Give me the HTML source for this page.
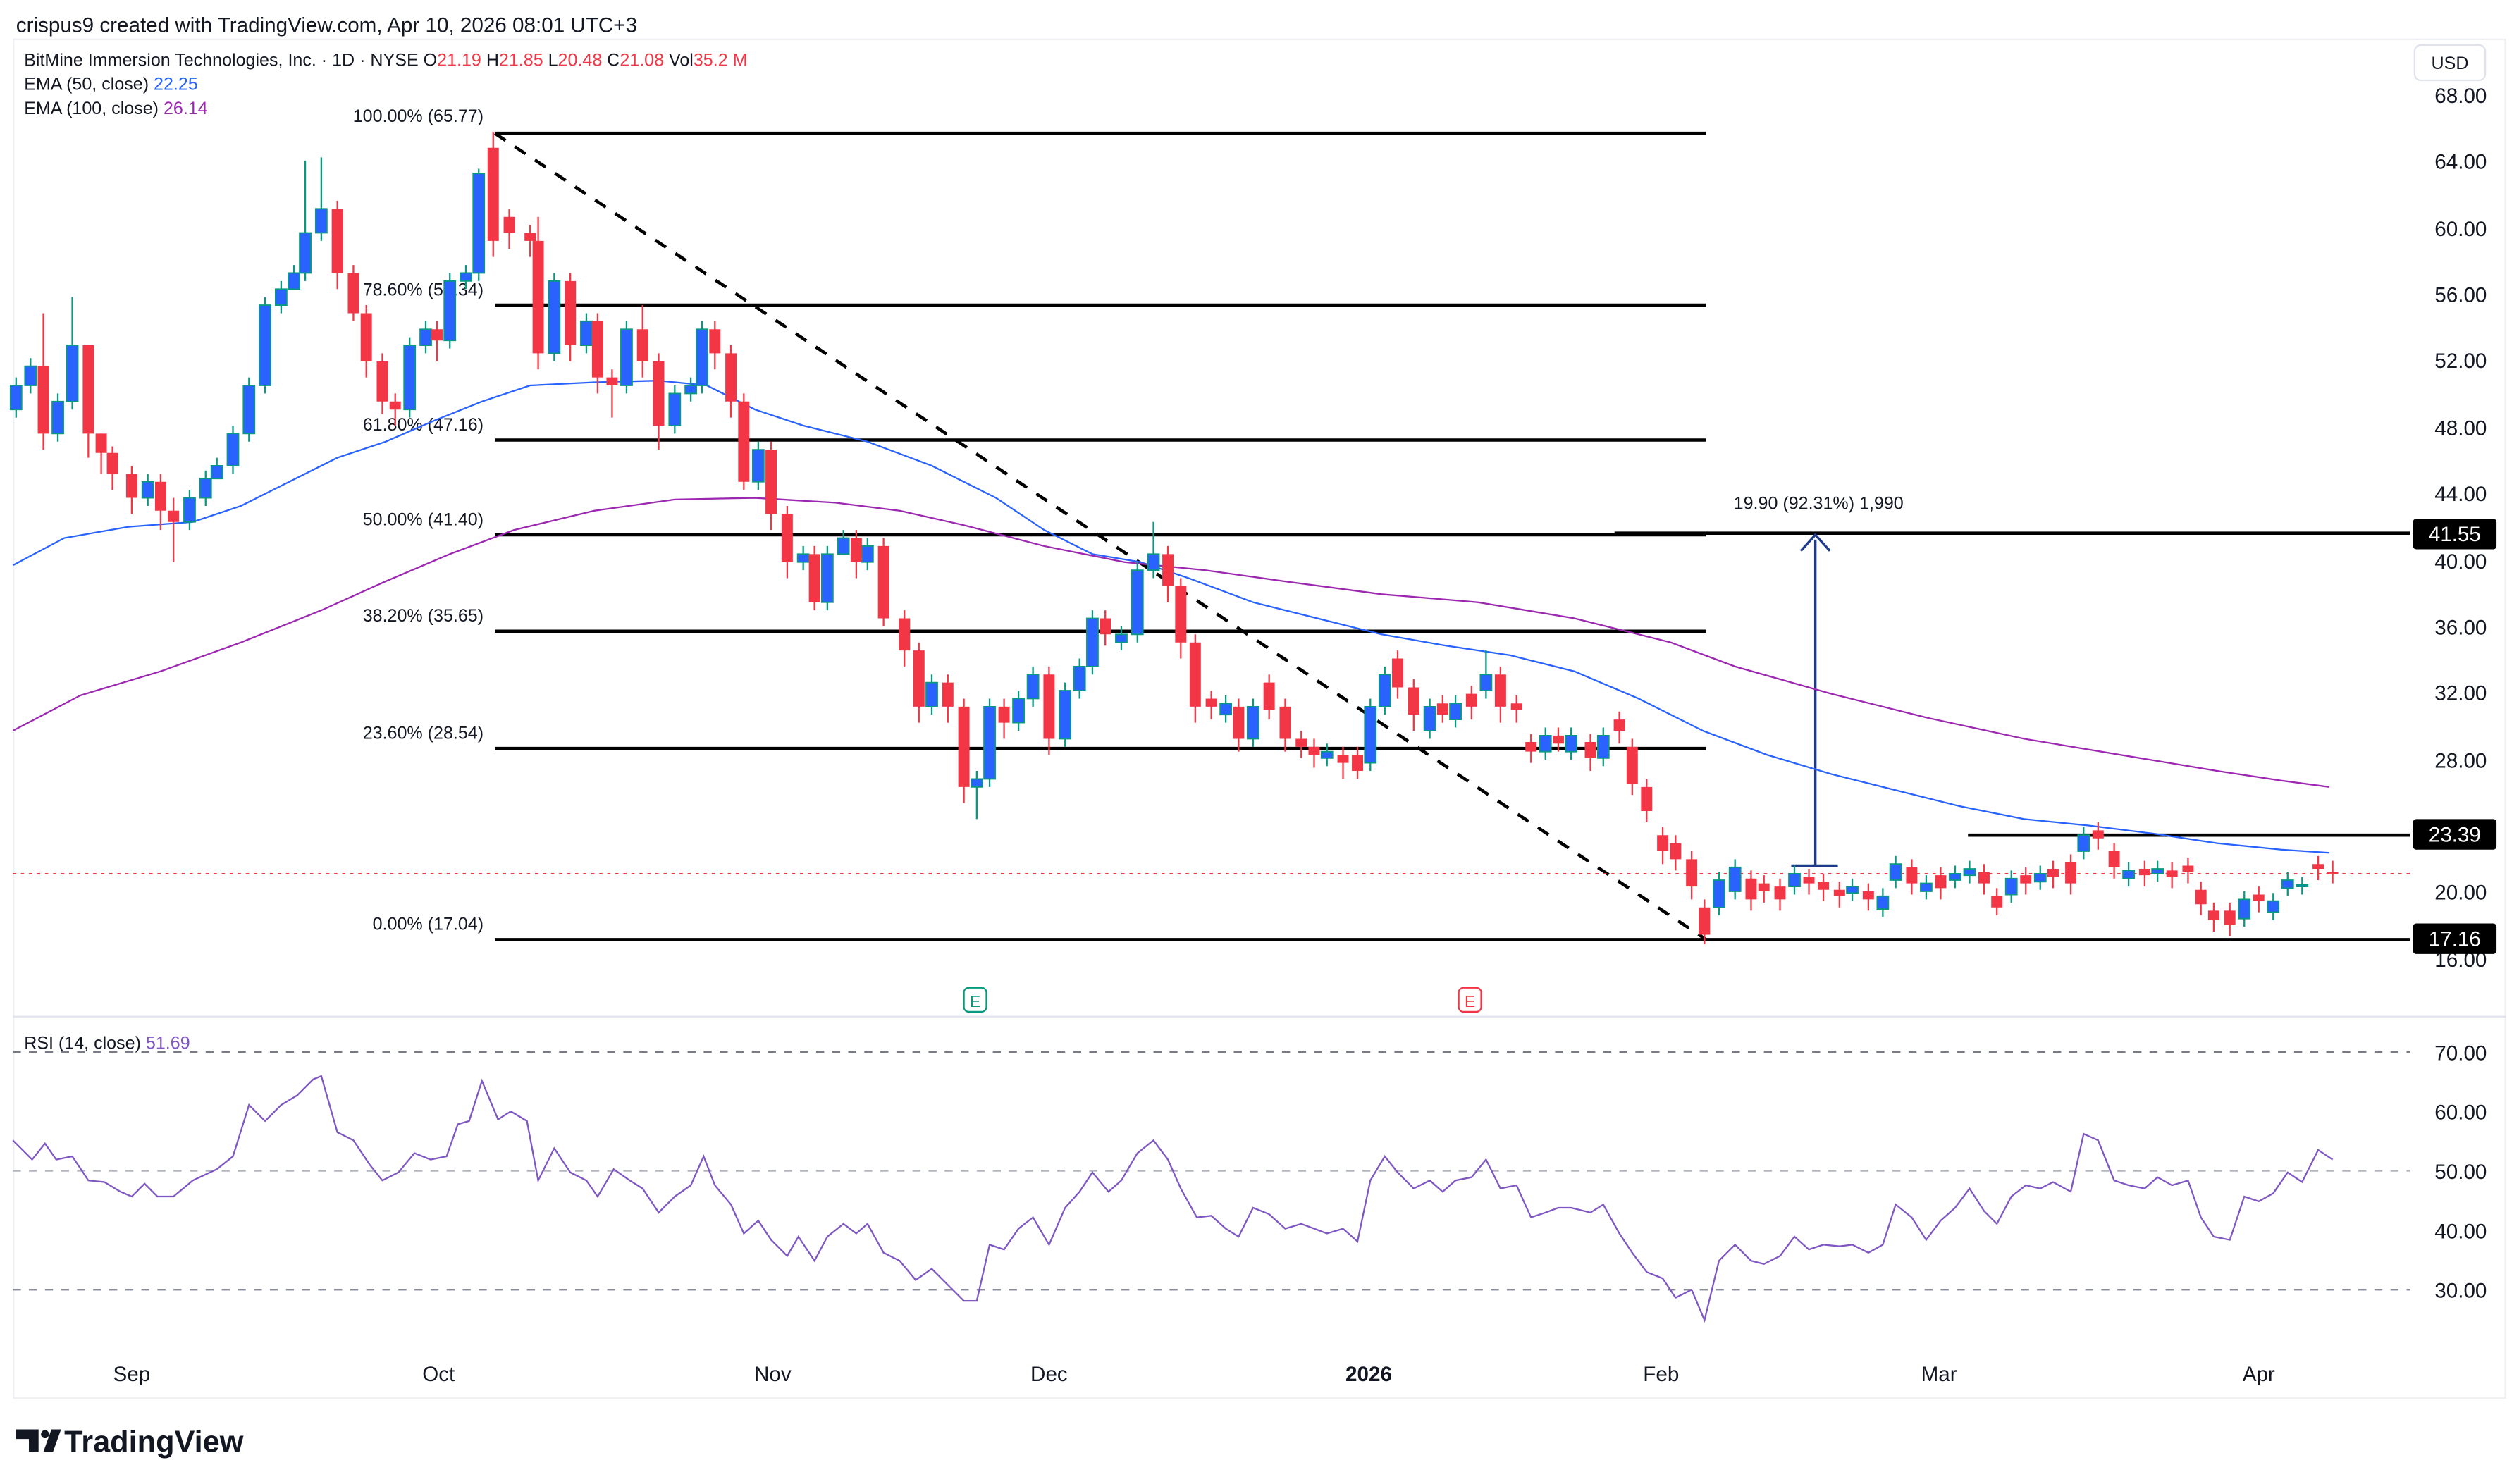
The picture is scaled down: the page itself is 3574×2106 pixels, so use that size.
<!DOCTYPE html>
<html><head><meta charset="utf-8"><style>
html,body{margin:0;padding:0;background:#fff;}
svg{display:block;}
text{font-family:"Liberation Sans",sans-serif;}
</style></head><body>
<svg width="3574" height="2106" viewBox="0 0 1568 924" preserveAspectRatio="none" xmlns="http://www.w3.org/2000/svg">
<rect width="1568" height="924" fill="#fff"/>
<text x="10" y="20" font-size="13" fill="#131722">crispus9 created with TradingView.com, Apr 10, 2026 08:01 UTC+3</text>
<rect x="8.5" y="24.5" width="1551" height="846" fill="none" stroke="#eef0f3"/>
<line x1="8" y1="633" x2="1560" y2="633" stroke="#e0e3eb" stroke-width="1"/>
<text x="15" y="41" font-size="11" fill="#131722">BitMine Immersion Technologies, Inc. · 1D · NYSE  O<tspan fill="#f23645">21.19</tspan> H<tspan fill="#f23645">21.85</tspan> L<tspan fill="#f23645">20.48</tspan> C<tspan fill="#f23645">21.08</tspan> Vol<tspan fill="#f23645">35.2 M</tspan></text>
<text x="15" y="56" font-size="11" fill="#131722">EMA (50, close) <tspan fill="#2962ff">22.25</tspan></text>
<text x="15" y="71" font-size="11" fill="#131722">EMA (100, close) <tspan fill="#9c27b0">26.14</tspan></text>
<rect x="1503" y="28" width="44" height="22" rx="4" fill="#fff" stroke="#e0e3eb"/>
<text x="1525" y="43" font-size="11" text-anchor="middle" fill="#131722">USD</text>
<g font-size="13" fill="#131722" text-anchor="end">
<text x="1548" y="64">68.00</text><text x="1548" y="105">64.00</text><text x="1548" y="147">60.00</text><text x="1548" y="188">56.00</text><text x="1548" y="229">52.00</text><text x="1548" y="271">48.00</text><text x="1548" y="312">44.00</text><text x="1548" y="354">40.00</text><text x="1548" y="395">36.00</text><text x="1548" y="436">32.00</text><text x="1548" y="478">28.00</text><text x="1548" y="560">20.00</text><text x="1548" y="602">16.00</text>
</g>
<g stroke="#000" stroke-width="2">
<line x1="308" y1="83" x2="1062" y2="83"/>
<line x1="308" y1="190" x2="1062" y2="190"/>
<line x1="308" y1="274" x2="1062" y2="274"/>
<line x1="308" y1="333" x2="1062" y2="333"/>
<line x1="308" y1="393" x2="1062" y2="393"/>
<line x1="308" y1="466" x2="1062" y2="466"/>
<line x1="308" y1="585" x2="1500" y2="585"/>
<line x1="1005" y1="332" x2="1500" y2="332"/>
<line x1="1225" y1="520" x2="1500" y2="520"/>
</g>
<line x1="308" y1="83" x2="1062" y2="585" stroke="#000" stroke-width="2" stroke-dasharray="8,7"/>
<g font-size="11" fill="#131722" text-anchor="end">
<text x="301" y="76">100.00% (65.77)</text>
<text x="301" y="184">78.60% (55.34)</text>
<text x="301" y="268">61.80% (47.16)</text>
<text x="301" y="327">50.00% (41.40)</text>
<text x="301" y="387">38.20% (35.65)</text>
<text x="301" y="460">23.60% (28.54)</text>
<text x="301" y="579">0.00% (17.04)</text>
</g>
<line x1="1130" y1="539" x2="1130" y2="336" stroke="#1e3a8a" stroke-width="1.5"/>
<line x1="1115" y1="539" x2="1144" y2="539" stroke="#1e3a8a" stroke-width="1.5"/>
<polyline points="1121,343 1130,333 1139,343" fill="none" stroke="#1e3a8a" stroke-width="1.5"/>
<text x="1132" y="317" font-size="11" text-anchor="middle" fill="#131722">19.90 (92.31%) 1,990</text>
<line x1="8" y1="544" x2="1500" y2="544" stroke="#f23645" stroke-width="0.8" stroke-dasharray="2,3"/>
<polyline fill="none" stroke="#2962ff" stroke-width="1" points="8,352 40,335 80,328 120,325 150,315 180,300 210,285 240,275 270,262 300,250 330,240 370,238 410,237 440,240 470,255 500,265 540,275 580,290 620,310 650,330 680,345 710,350 740,360 780,375 820,385 860,395 900,402 940,408 980,418 1020,435 1060,455 1100,470 1140,482 1180,492 1220,502 1260,510 1300,514 1340,519 1380,525 1420,529 1450,531"/>
<polyline fill="none" stroke="#9c27b0" stroke-width="1" points="8,455 50,433 100,418 150,400 200,380 240,362 280,345 320,330 370,318 420,311 470,310 520,313 560,318 600,327 650,340 700,350 750,355 800,362 860,370 920,375 980,385 1040,400 1080,415 1140,432 1200,447 1260,460 1320,470 1380,480 1420,486 1450,490"/>
<!-- up candles -->
<path stroke="#089981" stroke-width="1" fill="none" d="M10 235V260M19 223V245M36 245V275M45 185V255M92 295V315M118 305V330M128 293V315M135 285V295M145 265V295M155 235V275M165 185V245M175 175V195M183 165V175M190 100V175M200 98V150M255 210V260M265 200V220M280 170V217M290 165V180M298 105V175M345 170V225M365 195V220M390 200V245M420 240V270M430 235V250M437 200V245M472 275V305M500 340V355M515 340V380M525 330V340M540 335V355M580 420V445M608 480V510M616 435V490M634 430V455M643 415V440M663 425V465M672 410V435M680 380V420M698 390V405M708 350V400M718 325V360M763 433V450M780 435V465M826 463V477M853 435V480M862 415V445M890 435V460M906 433V453M925 405V435M962 453V473M978 453V473M998 453V477M1070 543V570M1080 535V560M1117 539V557M1153 547V561M1172 553V571M1180 533V553M1199 545V560M1217 539V553M1226 536V550M1252 542V562M1270 539V554M1297 515V535M1325 537V552M1343 536V549M1397 555V577M1415 556V573M1424 543V558M1433 546V557"/>
<path fill="#2962ff" stroke="#089981" stroke-width="0.8" d="M6.5 240h7V255h-7ZM15.5 228h7V240h-7ZM32.5 250h7V270h-7ZM41.5 215h7V250h-7ZM88.5 300h7V310h-7ZM114.5 310h7V325h-7ZM124.5 298h7V310h-7ZM131.5 290h7V298h-7ZM141.5 270h7V290h-7ZM151.5 240h7V270h-7ZM161.5 190h7V240h-7ZM171.5 180h7V190h-7ZM179.5 170h7V180h-7ZM186.5 145h7V170h-7ZM196.5 130h7V145h-7ZM251.5 215h7V255h-7ZM261.5 205h7V215h-7ZM276.5 175h7V212h-7ZM286.5 170h7V175h-7ZM294.5 108h7V170h-7ZM341.5 175h7V220h-7ZM361.5 200h7V215h-7ZM386.5 205h7V240h-7ZM416.5 245h7V265h-7ZM426.5 240h7V245h-7ZM433.5 205h7V240h-7ZM468.5 280h7V300h-7ZM496.5 345h7V350h-7ZM511.5 345h7V375h-7ZM521.5 335h7V345h-7ZM536.5 340h7V350h-7ZM576.5 425h7V440h-7ZM604.5 485h7V490h-7ZM612.5 440h7V485h-7ZM630.5 435h7V450h-7ZM639.5 420h7V435h-7ZM659.5 430h7V460h-7ZM668.5 415h7V430h-7ZM676.5 385h7V415h-7ZM694.5 395h7V400h-7ZM704.5 355h7V395h-7ZM714.5 345h7V355h-7ZM759.5 438h7V445h-7ZM776.5 440h7V460h-7ZM822.5 468h7V472h-7ZM849.5 440h7V475h-7ZM858.5 420h7V440h-7ZM886.5 440h7V455h-7ZM902.5 438h7V448h-7ZM921.5 420h7V430h-7ZM958.5 458h7V468h-7ZM974.5 458h7V468h-7ZM994.5 458h7V472h-7ZM1066.5 548h7V565h-7ZM1076.5 540h7V555h-7ZM1113.5 544h7V552h-7ZM1149.5 552h7V556h-7ZM1168.5 558h7V566h-7ZM1176.5 538h7V548h-7ZM1195.5 550h7V555h-7ZM1213.5 544h7V548h-7ZM1222.5 541h7V545h-7ZM1248.5 547h7V557h-7ZM1266.5 544h7V549h-7ZM1293.5 520h7V530h-7ZM1321.5 542h7V547h-7ZM1339.5 541h7V544h-7ZM1393.5 560h7V572h-7ZM1411.5 561h7V568h-7ZM1420.5 548h7V553h-7ZM1429.5 551h7V552h-7Z"/>
<!-- down candles -->
<path stroke="#f23645" stroke-width="1" fill="none" d="M27 195V280M55 255V285M63 270V295M70 278V305M82 290V320M100 295V330M108 310V350M210 125V180M220 165V200M228 190V235M238 220V258M246 245V265M272 200V225M307 82V160M317 130V155M330 140V160M335 135V230M355 170V225M372 195V245M381 230V260M400 190V235M410 220V280M445 200V230M455 215V260M463 245V305M480 275V330M490 315V360M507 340V380M533 330V360M550 335V390M563 380V415M572 400V450M590 420V450M600 435V500M625 435V460M653 415V470M688 380V402M727 340V375M735 360V410M744 395V450M754 430V448M771 435V468M790 420V448M800 435V468M810 455V472M818 460V478M836 465V485M845 465V485M870 405V435M880 423V455M898 433V450M916 427V448M934 415V450M944 433V450M953 457V475M970 453V468M990 457V480M1008 443V463M1016 460V495M1025 485V512M1035 515V538M1043 520V542M1053 530V560M1061 560V588M1090 542V567M1098 545V562M1108 547V567M1126 541V557M1135 544V561M1145 549V565M1163 550V567M1190 535V557M1208 540V560M1235 538V557M1243 553V570M1261 540V557M1278 536V553M1289 532V557M1306 512V529M1316 525V547M1335 536V552M1352 537V553M1362 534V550M1370 549V570M1378 562V580M1388 562V583M1406 552V568M1443 533V548M1452 536V550"/>
<path fill="#f23645" d="M23.5 228h7V270h-7ZM51.5 215h7V270h-7ZM59.5 270h7V282h-7ZM66.5 282h7V295h-7ZM78.5 295h7V310h-7ZM96.5 300h7V318h-7ZM104.5 318h7V325h-7ZM206.5 130h7V170h-7ZM216.5 170h7V195h-7ZM224.5 195h7V225h-7ZM234.5 225h7V250h-7ZM242.5 250h7V255h-7ZM268.5 205h7V212h-7ZM303.5 92h7V150h-7ZM313.5 135h7V145h-7ZM326.5 145h7V150h-7ZM331.5 150h7V220h-7ZM351.5 175h7V215h-7ZM368.5 200h7V235h-7ZM377.5 235h7V240h-7ZM396.5 205h7V225h-7ZM406.5 225h7V265h-7ZM441.5 205h7V220h-7ZM451.5 220h7V250h-7ZM459.5 250h7V300h-7ZM476.5 280h7V320h-7ZM486.5 320h7V350h-7ZM503.5 345h7V375h-7ZM529.5 335h7V350h-7ZM546.5 340h7V385h-7ZM559.5 385h7V405h-7ZM568.5 405h7V440h-7ZM586.5 425h7V440h-7ZM596.5 440h7V490h-7ZM621.5 440h7V450h-7ZM649.5 420h7V460h-7ZM684.5 385h7V395h-7ZM723.5 345h7V365h-7ZM731.5 365h7V400h-7ZM740.5 400h7V440h-7ZM750.5 435h7V440h-7ZM767.5 440h7V460h-7ZM786.5 425h7V442h-7ZM796.5 440h7V460h-7ZM806.5 460h7V465h-7ZM814.5 465h7V470h-7ZM832.5 470h7V475h-7ZM841.5 470h7V480h-7ZM866.5 410h7V428h-7ZM876.5 428h7V445h-7ZM894.5 438h7V445h-7ZM912.5 432h7V440h-7ZM930.5 420h7V440h-7ZM940.5 438h7V442h-7ZM949.5 462h7V468h-7ZM966.5 458h7V463h-7ZM986.5 462h7V472h-7ZM1004.5 448h7V455h-7ZM1012.5 465h7V488h-7ZM1021.5 490h7V505h-7ZM1031.5 520h7V530h-7ZM1039.5 525h7V535h-7ZM1049.5 535h7V552h-7ZM1057.5 565h7V582h-7ZM1086.5 547h7V560h-7ZM1094.5 550h7V555h-7ZM1104.5 552h7V560h-7ZM1122.5 546h7V550h-7ZM1131.5 549h7V554h-7ZM1141.5 554h7V558h-7ZM1159.5 555h7V560h-7ZM1186.5 540h7V550h-7ZM1204.5 545h7V553h-7ZM1231.5 543h7V550h-7ZM1239.5 558h7V565h-7ZM1257.5 545h7V550h-7ZM1274.5 541h7V546h-7ZM1285.5 537h7V550h-7ZM1302.5 517h7V522h-7ZM1312.5 530h7V540h-7ZM1331.5 541h7V545h-7ZM1348.5 542h7V546h-7ZM1358.5 539h7V543h-7ZM1366.5 554h7V563h-7ZM1374.5 567h7V573h-7ZM1384.5 567h7V576h-7ZM1402.5 557h7V561h-7ZM1439.5 538h7V541h-7ZM1448.5 543h7V544h-7Z"/>
<g font-size="13" fill="#fff" text-anchor="middle">
<rect x="1502" y="323" width="52" height="19" rx="2" fill="#000"/><text x="1528" y="337">41.55</text>
<rect x="1502" y="510" width="52" height="19" rx="2" fill="#000"/><text x="1528" y="524">23.39</text>
<rect x="1502" y="575" width="52" height="19" rx="2" fill="#000"/><text x="1528" y="589">17.16</text>
</g>
<rect x="600" y="615" width="14" height="15" rx="3" fill="#fff" stroke="#089981"/><text x="607" y="627" font-size="10" fill="#089981" text-anchor="middle">E</text>
<rect x="908" y="615" width="14" height="15" rx="3" fill="#fff" stroke="#f23645"/><text x="915" y="627" font-size="10" fill="#f23645" text-anchor="middle">E</text>
<text x="15" y="653" font-size="11" fill="#131722">RSI (14, close) <tspan fill="#7e57c2">51.69</tspan></text>
<g stroke-dasharray="5,5" stroke-width="1">
<line x1="8" y1="655" x2="1500" y2="655" stroke="#787b86"/>
<line x1="8" y1="729" x2="1500" y2="729" stroke="#b2b5be"/>
<line x1="8" y1="803" x2="1500" y2="803" stroke="#787b86"/>
</g>
<polyline fill="none" stroke="#7e57c2" stroke-width="1" points="8,710 20,722 28,712 35,722 45,720 55,735 65,736 75,742 82,745 90,737 98,745 108,745 120,735 135,728 145,720 155,688 165,698 175,688 185,682 195,672 200,670 210,705 220,710 230,725 238,735 248,730 258,718 268,722 278,720 285,700 292,698 300,673 310,697 318,692 328,698 335,735 345,715 355,730 365,735 372,745 382,728 392,735 400,740 410,755 420,745 430,738 438,720 445,738 455,750 463,768 472,760 480,772 490,782 497,770 507,785 515,770 525,762 533,768 540,762 550,780 560,785 570,797 580,790 590,800 600,810 608,810 616,775 625,778 634,765 643,758 653,775 663,752 672,742 680,730 690,742 698,735 708,718 718,710 727,722 735,740 745,758 754,757 763,765 771,770 780,752 790,756 800,765 810,762 818,765 826,768 836,765 845,773 853,735 862,720 870,730 880,740 890,735 898,742 906,735 916,733 925,722 934,740 944,738 953,758 962,755 970,752 978,752 990,755 998,750 1008,768 1016,780 1025,792 1035,796 1043,808 1053,803 1061,822 1070,785 1080,775 1090,785 1098,787 1108,782 1117,770 1126,778 1135,775 1145,776 1153,775 1163,780 1172,775 1180,750 1190,758 1199,772 1208,760 1217,752 1226,740 1235,754 1243,762 1252,745 1261,738 1270,740 1278,736 1289,742 1297,706 1306,710 1316,735 1325,738 1335,740 1343,733 1352,738 1362,735 1370,758 1378,770 1388,772 1397,745 1406,748 1415,743 1424,730 1433,736 1443,716 1452,722"/>
<g font-size="13" fill="#131722" text-anchor="end">
<text x="1548" y="660">70.00</text><text x="1548" y="697">60.00</text><text x="1548" y="734">50.00</text><text x="1548" y="771">40.00</text><text x="1548" y="808">30.00</text>
</g>
<g font-size="13" fill="#131722" text-anchor="middle">
<text x="82" y="860">Sep</text><text x="273" y="860">Oct</text><text x="481" y="860">Nov</text><text x="653" y="860">Dec</text><text x="852" y="860" font-weight="bold">2026</text><text x="1034" y="860">Feb</text><text x="1207" y="860">Mar</text><text x="1406" y="860">Apr</text>
</g>
<path d="M10 890h14v14h-6v-8h-8Z M27 904l5-14h6l-5 14Z" fill="#131722"/>
<circle cx="28" cy="893" r="2.5" fill="#131722"/>
<text x="40" y="904" font-size="19" font-weight="bold" fill="#131722">TradingView</text>
</svg>
</body></html>
